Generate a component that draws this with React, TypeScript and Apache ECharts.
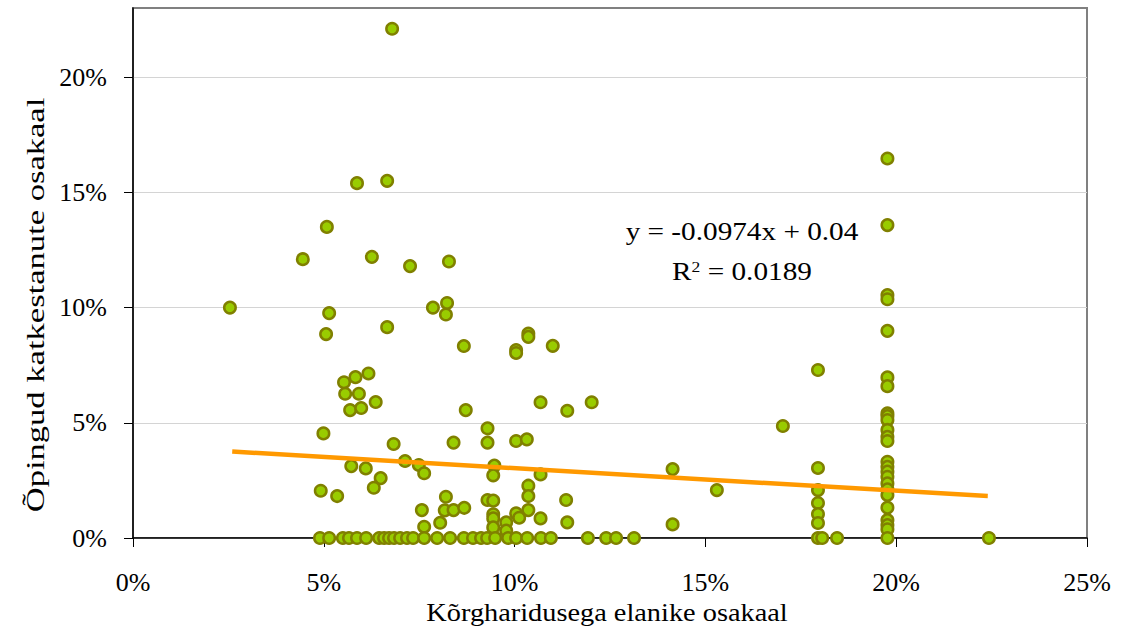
import React, { useEffect, useRef } from "react";
import * as echarts from "echarts";

// Kõrgharidusega elanike osakaal (%), paired with Õpingud katkestanute osakaal (%)
const collegeShare: number[] = [
  2.54, 4.45, 5.08, 5.14, 5.06, 5.87, 6.66, 6.79, 6.26, 7.26, 8.28, 7.86, 8.23, 8.2, 6.66, 8.67,
  10.36, 10.36, 10.04, 10.04, 11.0, 5.53, 5.83, 6.17, 5.56, 5.92, 6.36, 5.69, 5.98, 8.72, 4.99,
  6.83, 8.4, 9.29, 9.29, 10.04, 10.32, 7.13, 5.72, 6.1, 7.49, 7.63, 9.47, 9.44, 6.49, 6.31, 4.92,
  5.35, 10.36, 10.36, 10.36, 8.2, 8.17, 8.4, 8.68, 7.57, 9.29, 9.44, 9.44, 9.44, 9.44, 7.63, 8.05,
  9.78, 9.78, 10.04, 10.12, 10.68, 11.38, 12.02, 10.68, 14.14, 11.35, 10.68, 11.38, 14.14, 17.03,
  15.3,
  17.95, 17.95, 17.95, 17.95, 17.95, 17.95,
  19.77, 19.77, 19.77, 19.77, 19.77, 19.77, 19.77, 19.77, 19.77, 19.77, 19.77, 19.77, 19.77,
  19.77, 19.77, 19.77, 19.77, 19.77, 19.77, 19.77, 19.77, 19.77, 19.77, 19.77, 19.77,
  4.9, 5.14, 5.5, 5.66, 5.87, 6.11, 6.45, 6.58, 6.71, 6.84, 7.0, 7.18, 7.34, 7.63, 7.97, 8.31,
  8.67, 8.91, 9.12, 9.28, 9.49, 9.83, 10.04, 10.33, 10.69, 10.95, 11.92, 12.4, 12.66, 13.13,
  17.95, 18.06, 18.45, 22.43,
];

const dropoutShare: number[] = [
  10.0, 12.1, 13.5, 9.76, 8.85, 15.4, 15.5, 22.1, 12.2, 11.8, 12.0, 10.0, 10.2, 9.7, 9.15, 8.33,
  8.87, 8.73, 8.16, 8.03, 8.34, 6.76, 6.98, 7.14, 6.26, 6.26, 5.9, 5.55, 5.64, 5.55, 4.54,
  4.08, 4.14, 4.76, 4.14, 4.21, 4.28, 3.34, 3.12, 3.02, 3.17, 2.81, 3.14, 2.72, 2.6, 2.18, 2.05,
  1.82, 2.27, 1.82, 1.21, 1.79, 1.2, 1.21, 1.31, 1.21, 1.65, 1.62, 1.03, 0.85, 0.46, 0.49, 0.66,
  0.68, 0.32, 1.07, 0.88, 5.89, 5.52, 5.89, 2.76, 2.99, 1.65, 0.85, 0.68, 0.59, 4.86,
  2.08,
  7.29, 3.04, 2.08, 1.52, 1.04, 0.65,
  16.47, 13.58, 10.54, 10.36, 8.99, 6.97, 6.59, 5.41, 5.29, 5.12, 4.69, 4.39, 4.21,
  3.31, 3.09, 2.88, 2.66, 2.37, 2.11, 1.87, 1.32, 0.78, 0.56, 0.38, 0,
  0, 0, 0, 0, 0, 0, 0, 0, 0, 0, 0, 0, 0, 0, 0, 0,
  0, 0, 0, 0, 0, 0, 0, 0, 0, 0, 0, 0, 0, 0,
  0, 0, 0, 0,
];

// Linear trendline end points
const trendX: number[] = [2.6, 22.4];
const trendY: number[] = [3.75, 1.82];

const xTicks: number[] = [0, 5, 10, 15, 20, 25];
const yTicks: number[] = [0, 5, 10, 15, 20];

const equationText = "y = -0.0974x + 0.04";
const r2Value = "0.0189";
const xTitle = "Kõrgharidusega elanike osakaal";
const yTitle = "Õpingud katkestanute osakaal";

const FONT = "'Liberation Serif', 'Times New Roman', serif";

export default function App() {
  const ref = useRef<HTMLDivElement>(null);

  useEffect(() => {
    if (!ref.current) return;
    const chart = echarts.init(ref.current, undefined, { renderer: "svg" });
    const points = collegeShare.map((x, i) => [x, dropoutShare[i]]);
    const trend = trendX.map((x, i) => [x, trendY[i]]);

    chart.setOption({
      animation: false,
      backgroundColor: "#ffffff",
      grid: {
        left: 133,
        right: 36,
        top: 8,
        bottom: 88,
        show: true,
        borderColor: "#808080",
        borderWidth: 2,
        backgroundColor: "transparent",
      },
      xAxis: {
        type: "value",
        min: 0,
        max: 25,
        interval: 5,
        axisLine: { show: true, onZero: false, lineStyle: { color: "#000", width: 1.5 } },
        axisTick: { show: true, length: 9, lineStyle: { color: "#000", width: 1 } },
        splitLine: { show: false },
        axisLabel: {
          formatter: "{value}%",
          fontFamily: FONT,
          fontSize: 26,
          color: "#000",
          margin: 31,
          customValues: xTicks,
        },
      },
      yAxis: {
        type: "value",
        min: 0,
        max: 23,
        interval: 5,
        axisLine: { show: true, onZero: false, lineStyle: { color: "#000", width: 1.5 } },
        axisTick: { show: true, length: 9, lineStyle: { color: "#000", width: 1 }, customValues: yTicks },
        splitLine: { show: true, lineStyle: { color: "#d4d4d4", width: 1.2 } },
        axisLabel: {
          formatter: "{value}%",
          fontFamily: FONT,
          fontSize: 26,
          color: "#000",
          margin: 26,
          customValues: yTicks,
        },
      },
      series: [
        {
          type: "scatter",
          data: points,
          symbol: "circle",
          symbolSize: 11.5,
          itemStyle: { color: "#99CC00", borderColor: "#808000", borderWidth: 2.5, opacity: 1 },
          z: 2,
        },
        {
          type: "line",
          data: trend,
          showSymbol: false,
          symbol: "none",
          lineStyle: { color: "#FF9900", width: 4.5 },
          z: 3,
        },
      ],
      graphic: [
        {
          type: "text",
          x: 742,
          y: 232,
          scaleX: 1.17,
          style: {
            text: equationText,
            font: `25px ${FONT}`,
            fill: "#000",
            align: "center",
            verticalAlign: "middle",
          },
        },
        {
          type: "text",
          x: 742,
          y: 272,
          scaleX: 1.17,
          style: {
            text: `{n|R}{s|2}{n| = ${r2Value}}`,
            align: "center",
            verticalAlign: "middle",
            rich: {
              n: { fontFamily: FONT, fontSize: 25, fill: "#000", verticalAlign: "bottom" },
              s: { fontFamily: FONT, fontSize: 15, fill: "#000", verticalAlign: "top", padding: [0, 0, 10, 0] },
            },
          },
        },
        {
          type: "text",
          x: 607,
          y: 612,
          scaleX: 1.09,
          style: {
            text: xTitle,
            font: `26px ${FONT}`,
            fill: "#000",
            align: "center",
            verticalAlign: "middle",
          },
        },
        {
          type: "text",
          x: 36,
          y: 305,
          rotation: Math.PI / 2,
          scaleX: 1.33,
          style: {
            text: yTitle,
            font: `26px ${FONT}`,
            fill: "#000",
            align: "center",
            verticalAlign: "middle",
          },
        },
      ],
    });

    return () => chart.dispose();
  }, []);

  return (
    <div
      ref={ref}
      style={{ position: "fixed", left: 0, top: 0, width: 1123, height: 626, background: "#fff" }}
    />
  );
}
